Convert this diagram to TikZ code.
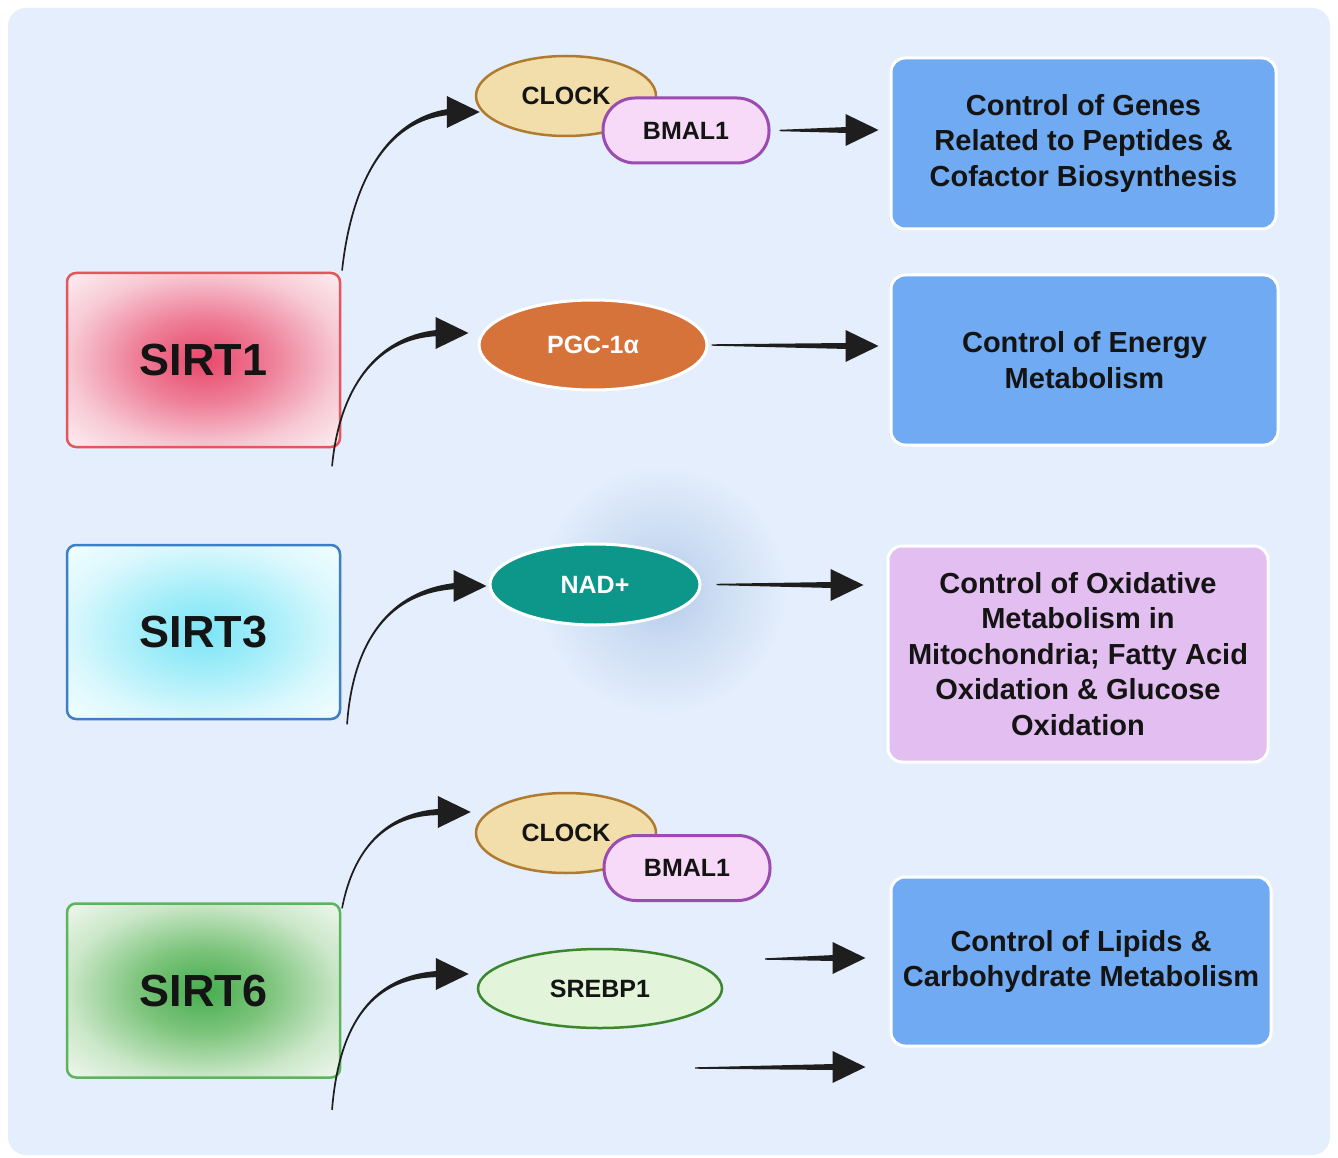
\documentclass[tikz,border=0pt]{standalone}
\usepackage{fontspec}
\setmainfont{Liberation Sans}
\usetikzlibrary{calc,shapes.geometric}
\definecolor{bgpanel}{HTML}{E4EEFC}
\definecolor{txt}{HTML}{141414}
\definecolor{arrowc}{HTML}{1E1E1E}
\definecolor{boxblue}{HTML}{70AAF2}
\definecolor{lilac}{HTML}{E3BEF0}
\definecolor{clockfill}{HTML}{F2DEAB}
\definecolor{clockdraw}{HTML}{B07B30}
\definecolor{bmalfill}{HTML}{F6DAF8}
\definecolor{bmaldraw}{HTML}{9A4CB0}
\definecolor{pgcfill}{HTML}{D5733A}
\definecolor{nadfill}{HTML}{0D968A}
\definecolor{srebpfill}{HTML}{E2F4DA}
\definecolor{srebpdraw}{HTML}{3C872D}
\definecolor{glowc}{HTML}{B3CAE9}
\definecolor{s1draw}{HTML}{E5555C}
\definecolor{s3draw}{HTML}{3D7FC4}
\definecolor{s6draw}{HTML}{5CB55A}
\definecolor{ra}{HTML}{E8476B}\definecolor{rb}{HTML}{EE7D96}\definecolor{rc}{HTML}{F7C9D4}\definecolor{re}{HTML}{FDF1F4}
\definecolor{ca}{HTML}{7CE4F6}\definecolor{cb}{HTML}{A5EEF9}\definecolor{cc}{HTML}{DBF8FD}\definecolor{ce}{HTML}{F4FDFF}
\definecolor{ga}{HTML}{45AD4E}\definecolor{gb}{HTML}{7CC47B}\definecolor{gc}{HTML}{CBE7C9}\definecolor{ge}{HTML}{F1F8F0}
\definecolor{gmid}{HTML}{CADBF2}
\pgfdeclareradialshading{redglow}{\pgfpoint{0bp}{0bp}}{color(0bp)=(ra); color(12bp)=(rb); color(25bp)=(rc); color(36bp)=(re); color(50bp)=(re)}
\pgfdeclareradialshading{cyanglow}{\pgfpoint{0bp}{0bp}}{color(0bp)=(ca); color(12bp)=(cb); color(25bp)=(cc); color(36bp)=(ce); color(50bp)=(ce)}
\pgfdeclareradialshading{greenglow}{\pgfpoint{0bp}{0bp}}{color(0bp)=(ga); color(12bp)=(gb); color(25bp)=(gc); color(36bp)=(ge); color(50bp)=(ge)}
\pgfdeclareradialshading{nadglow}{\pgfpoint{0bp}{0bp}}{color(0bp)=(glowc); color(10bp)=(gmid); color(25bp)=(bgpanel); color(50bp)=(bgpanel)}
\newcommand\curvearr[4]{%
  \fill[arrowc] (#1) .. controls (#2) and (#3) .. ($(#4)+(-31,-3.1)$) -- ($(#4)+(-31,3.1)$) .. controls ($(#3)+(0,3.1)$) and ($(#2)+(2.4,0)$) .. ($(#1)+(1.6,0)$) -- cycle;
  \fill[arrowc] ($(#4)+(-33,-16)$) -- (#4) -- ($(#4)+(-33,16)$) -- cycle;}
\newcommand\straightarr[2]{%
  \fill[arrowc] ($(#1)+(0,-0.7)$) -- ($(#2)+(-31,-3)$) -- ($(#2)+(-31,3)$) -- ($(#1)+(0,0.7)$) -- cycle;
  \fill[arrowc] ($(#2)+(-33,-16)$) -- (#2) -- ($(#2)+(-33,16)$) -- cycle;}
\tikzset{
  sirt/.style={rectangle, rounded corners=9, minimum width=273, minimum height=174, line width=2.5, font=\fontsize{45}{50}\selectfont\bfseries, text=txt},
  outbox/.style={rectangle, rounded corners=14, draw=white, line width=3, align=center, font=\fontsize{29}{35.5}\selectfont\bfseries, text=txt, inner sep=0},
  small/.style={font=\fontsize{25}{28}\selectfont\bfseries, inner sep=0},
  clockn/.style={small, ellipse, minimum width=180, minimum height=80, fill=clockfill, draw=clockdraw, line width=2.5, text=txt},
  bmaln/.style={small, rectangle, rounded corners=32, minimum width=166, minimum height=65, fill=bmalfill, draw=bmaldraw, line width=3, text=txt},
}
\begin{document}
\begin{tikzpicture}[x=1pt,y=-1pt]
\useasboundingbox (0,0) rectangle (1338,1158);
\fill[white] (0,0) rectangle (1338,1158);
\fill[bgpanel, rounded corners=18] (8,8) rectangle (1330,1155);
% glow behind NAD+
\shade[shading=nadglow] (662,590) circle (125);
% SIRT boxes
\node[sirt, shading=redglow, draw=s1draw] (s1) at (203.5,360) {SIRT1};
\node[sirt, shading=cyanglow, draw=s3draw] (s3) at (203.5,632) {SIRT3};
\node[sirt, shading=greenglow, draw=s6draw] (s6) at (203.5,990.5) {SIRT6};
% middle nodes
\node[clockn] (clock1) at (566,96) {CLOCK};
\node[bmaln] (bmal1) at (686,130.5) {BMAL1};
\node[small, ellipse, minimum width=228, minimum height=90, fill=pgcfill, draw=white, line width=3, text=white] (pgc) at (593,345) {PGC-1α};
\node[small, ellipse, minimum width=210, minimum height=81, fill=nadfill, draw=white, line width=3, text=white] (nad) at (595,584.5) {NAD+};
\node[clockn] (clock2) at (566,833) {CLOCK};
\node[bmaln] (bmal2) at (687,868) {BMAL1};
\node[small, ellipse, minimum width=244, minimum height=79, fill=srebpfill, draw=srebpdraw, line width=2.5, text=txt] (srebp) at (600,988.5) {SREBP1};
% right boxes
\node[outbox, fill=boxblue, minimum width=385, minimum height=171] (o1) at (1083.5,143.5) {Control of Genes\\Related to Peptides \&\\Cofactor Biosynthesis};
\node[outbox, fill=boxblue, minimum width=387, minimum height=170] (o2) at (1084.5,360) {Control of Energy\\Metabolism};
\node[outbox, fill=lilac, minimum width=380, minimum height=216] (o3) at (1078,654) {Control of Oxidative\\Metabolism in\\Mitochondria; Fatty Acid\\Oxidation \& Glucose\\Oxidation};
\node[outbox, fill=boxblue, minimum width=380, minimum height=169] (o4) at (1081,961.5) {Control of Lipids \&\\Carbohydrate Metabolism};
% connector end points
\coordinate (a1s) at ($(s1.north east)+(0,-1)$);
\coordinate (a1e) at ($(clock1.west)+(5,16)$);
\coordinate (a2s) at ($(s1.south east)+(-10,18)$);
\coordinate (a2e) at ($(pgc.west)+(-9,-12)$);
\coordinate (a3s) at ($(s3.south east)+(5,4)$);
\coordinate (a3e) at ($(nad.west)+(-2,1.5)$);
\coordinate (a4s) at ($(s6.north east)+(0,6)$);
\coordinate (a4e) at ($(clock2.west)+(-4,-21)$);
\coordinate (a5s) at ($(s6.south east)+(-10,31)$);
\coordinate (a5e) at ($(srebp.west)+(-8,-14.5)$);
\coordinate (h1s) at ($(bmal1.east)+(9,0)$);
\coordinate (h1e) at ($(o1.west)+(-11,-13.5)$);
\coordinate (h2s) at ($(pgc.east)+(3,0)$);
\coordinate (h2e) at ($(o2.west)+(-11,-14)$);
\coordinate (h3s) at ($(nad.east)+(15,0)$);
\coordinate (h3e) at ($(o3.west)+(-23,-69)$);
\coordinate (h4s) at (765,959);
\coordinate (h4e) at ($(o4.west)+(-24,-3.5)$);
\coordinate (h5s) at (695,1068);
\coordinate (h5e) at ($(o4.west)+(-24,105.5)$);
% curved arrows
\curvearr{a1s}{350,185}{385,118}{a1e}
\curvearr{a2s}{338,390}{375,336}{a2e}
\curvearr{a3s}{352,640}{390,590}{a3e}
\curvearr{a4s}{352,850}{385,812}{a4e}
\curvearr{a5s}{338,1020}{375,975}{a5e}
% straight arrows
\straightarr{h1s}{h1e}
\straightarr{h2s}{h2e}
\straightarr{h3s}{h3e}
\straightarr{h4s}{h4e}
\straightarr{h5s}{h5e}
\end{tikzpicture}
\end{document}
